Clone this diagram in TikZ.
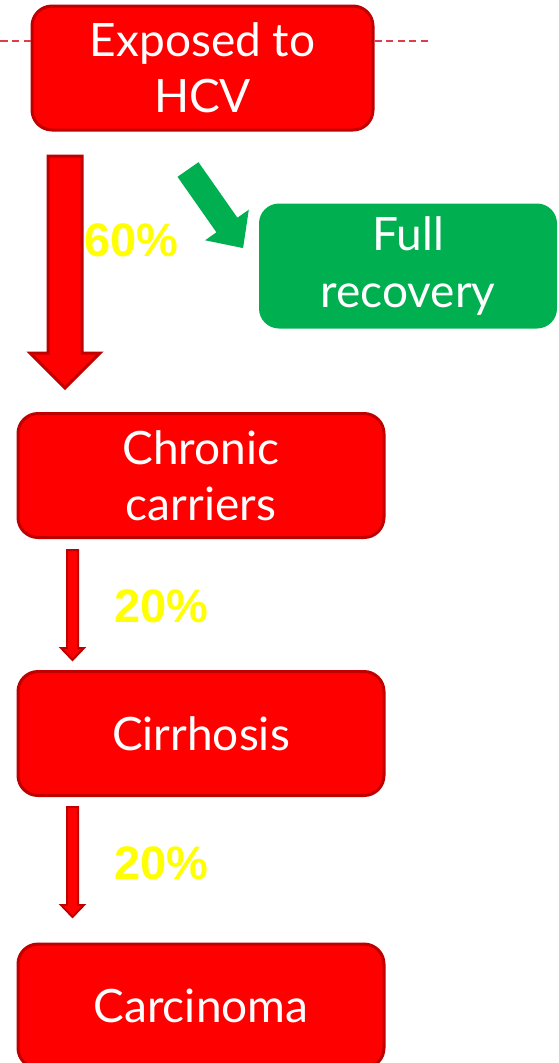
\documentclass[tikz,border=0pt]{standalone}
\usepackage{fontspec}
\setmainfont{Lato}
\newfontfamily\pctfont{Liberation Sans}
\definecolor{boxred}{HTML}{FF0000}
\definecolor{edgered}{HTML}{C00000}
\definecolor{okgreen}{HTML}{00B050}
\definecolor{dashred}{HTML}{E03C4C}
\definecolor{pctyellow}{HTML}{FFFF00}
\begin{document}
\begin{tikzpicture}[x=1pt,y=-1pt,
  redbox/.style={draw=edgered, line width=3pt, fill=boxred, rounded corners=20pt,
    minimum width=366pt, minimum height=124pt, inner sep=0pt,
    text=white, align=center, font=\fontsize{46}{56}\selectfont},
  greenbox/.style={fill=okgreen, rounded corners=20pt,
    minimum width=298pt, minimum height=125pt, inner sep=0pt,
    text=white, align=center, font=\fontsize{46}{57}\selectfont},
  pct/.style={text=pctyellow, inner sep=0pt, font=\pctfont\bfseries\fontsize{47}{50}\selectfont},
  blockarrow/.style={draw=edgered, fill=boxred, line join=miter},
  dashline/.style={draw=dashred, line width=1.8pt, dash pattern=on 7pt off 4.5pt}]
\useasboundingbox (0,0) rectangle (559,1063);

\node[redbox, minimum width=341pt] (exposed) at (202.5,68) {Exposed to\\HCV};
\node[greenbox] (recovery) at (408,266) {Full\\recovery};
\node[redbox] (chronic) at (201,475.5) {Chronic\\carriers};
\node[redbox] (cirrhosis) at (201,733.5) {Cirrhosis};
\node[redbox] (carcinoma) at (201,1006) {Carcinoma};

\coordinate (dashL) at (0,41);
\coordinate (dashR) at (430,41);
\draw[dashline] (exposed.west |- dashL) -- (dashL);
\draw[dashline] (exposed.east |- dashR) -- (dashR);

% arrows
\draw[blockarrow, line width=3pt] (48,156) -- (82,156) -- (82,353) -- (100,353) -- (65,388) -- (30,353) -- (48,353) -- cycle;
\fill[okgreen] (177.5,176.8) -- (198.5,162.2) -- (237.4,217.7) -- (248.8,209.7) -- (243.1,248.1) -- (205.1,240.3) -- (216.4,232.3) -- cycle;
\draw[blockarrow, line width=2pt] (67,550) -- (78,550) -- (78,648) -- (84,648) -- (72.5,660) -- (61,648) -- (67,648) -- cycle;
\draw[blockarrow, line width=2pt] (67,807) -- (78,807) -- (78,905) -- (84,905) -- (72.5,917) -- (61,905) -- (67,905) -- cycle;

\node[pct] (p60) at (131.5,240.5) {60\%};
\node[pct] (p20a) at (161.5,606) {20\%};
\node[pct] (p20b) at (161.5,863) {20\%};
\end{tikzpicture}
\end{document}
